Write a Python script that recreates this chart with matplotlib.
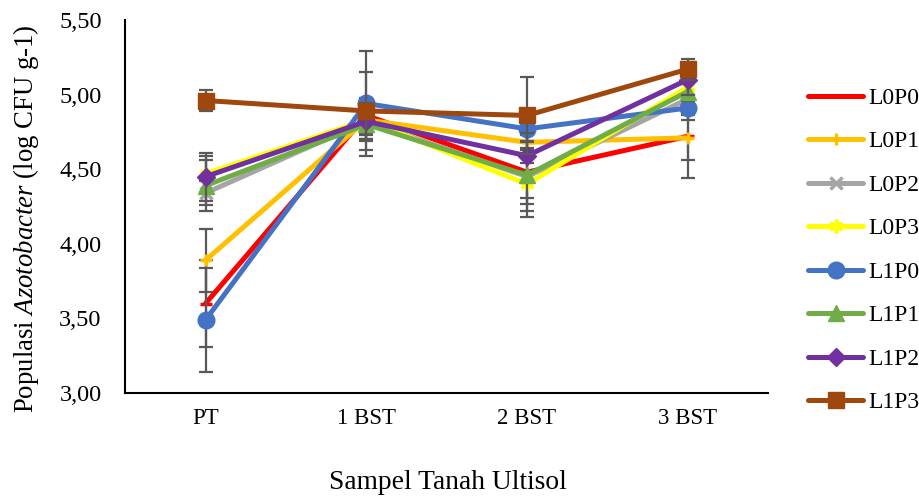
import numpy as np
import matplotlib
matplotlib.use("Agg")
import matplotlib.pyplot as plt

plt.rcParams['font.family'] = ['Liberation Serif', 'DejaVu Serif']
plt.rcParams['mathtext.fontset'] = 'custom'
plt.rcParams['mathtext.rm'] = 'Liberation Serif'
plt.rcParams['mathtext.it'] = 'Liberation Serif:italic'

## data
categories = ['PT', '1 BST', '2 BST', '3 BST']
series = ['L0P0', 'L0P1', 'L0P2', 'L0P3', 'L1P0', 'L1P1', 'L1P2', 'L1P3']

L0P0 = [3.60, 4.86, 4.48, 4.72]
L0P1 = [3.89, 4.83, 4.68, 4.71]
L0P2 = [4.34, 4.82, 4.45, 4.97]
L0P3 = [4.47, 4.83, 4.40, 5.05]
L1P0 = [3.49, 4.94, 4.77, 4.91]
L1P1 = [4.39, 4.80, 4.46, 5.02]
L1P2 = [4.45, 4.82, 4.59, 5.10]
L1P3 = [4.96, 4.89, 4.86, 5.17]

# standard errors (error bars)
err_L0P0 = [0.29, 0.12, 0.21, 0.28]
err_L0P1 = [0.21, 0.10, 0.05, 0.15]
err_L0P2 = [0.08, 0.13, 0.23, 0.10]
err_L0P3 = [0.12, 0.08, 0.09, 0.08]
err_L1P0 = [0.35, 0.35, 0.08, 0.08]
err_L1P1 = [0.17, 0.10, 0.28, 0.06]
err_L1P2 = [0.16, 0.12, 0.05, 0.10]
err_L1P3 = [0.07, 0.26, 0.26, 0.07]

yticks = [3.00, 3.50, 4.00, 4.50, 5.00, 5.50]
ytick_labels = ['3,00', '3,50', '4,00', '4,50', '5,00', '5,50']

values = [L0P0, L0P1, L0P2, L0P3, L1P0, L1P1, L1P2, L1P3]
errors = [err_L0P0, err_L0P1, err_L0P2, err_L0P3, err_L1P0, err_L1P1, err_L1P2, err_L1P3]

colors = ['#FF0000', '#FFC000', '#A5A5A5', '#FFFF00', '#4472C4', '#70AD47', '#7030A0', '#9E480E']
markers = ['_', '+', 'x', (6, 2, 0), 'o', '^', 'D', 's']
msizes = [9, 9, 9, 10, 12, 11, 9, 11]

fig = plt.figure(figsize=(9.2, 4.97), dpi=100)
ax = fig.add_axes([0.136, 0.209, 0.699, 0.751])

x = np.arange(len(categories))
for i in range(len(series)):
    ax.errorbar(x, values[i], yerr=errors[i], fmt='none', ecolor='#595959',
                elinewidth=1.6, capsize=4.7, capthick=1.6, zorder=2 + i * 0.1)
    ax.plot(x, values[i], color=colors[i], lw=3.6, marker=markers[i], ms=msizes[i],
            mew=2.5 if markers[i] in ['_', '+', 'x', (6, 2, 0)] else 1,
            mec=colors[i], mfc=colors[i], label=series[i], zorder=2.05 + i * 0.1,
            solid_capstyle='round')

ax.set_xlim(-0.5, 3.5)
ax.set_ylim(3.0, 5.5)
ax.set_xticks(x)
ax.set_xticklabels(categories)
ax.set_yticks(yticks)
ax.set_yticklabels(ytick_labels)
ax.tick_params(length=0)
ax.tick_params(axis='x', pad=11, labelsize=16.5)
ax.tick_params(axis='y', pad=17, labelsize=17.5)
for s in ['top', 'right']:
    ax.spines[s].set_visible(False)
ax.spines['left'].set_linewidth(1.5)
ax.spines['bottom'].set_linewidth(1.5)

fig.text(0.028, 0.56, r'Populasi $\mathit{Azotobacter}$ (log CFU g-1)', rotation=90,
         ha='center', va='center', fontsize=19.3)
fig.text(0.487, 0.030, 'Sampel Tanah Ultisol', ha='center', va='center', fontsize=19.8)

leg = fig.legend(loc='upper left', bbox_to_anchor=(0.868, 0.843), frameon=False,
                 fontsize=17, handlelength=2.35, handletextpad=0.2, labelspacing=0.93,
                 borderaxespad=0)

fig.savefig('out.png', dpi=100)
